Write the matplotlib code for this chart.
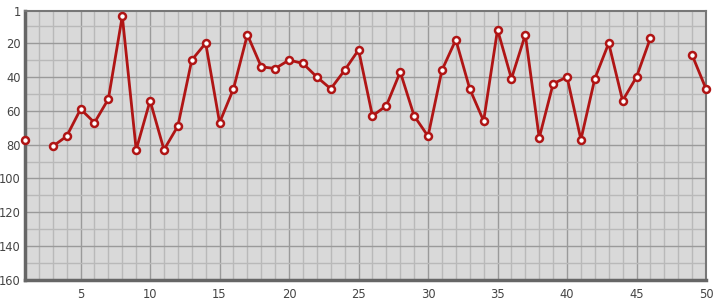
import matplotlib.pyplot as plt
import numpy as np

positions = np.arange(1, 51)
ranks = [77, np.nan, 81, 75, 59, 67, 53, 4, 83, 54,
         83, 69, 30, 20, 67, 47, 15, 34, 35, 30,
         32, 40, 47, 36, 24, 63, 57, 37, 63, 75,
         36, 18, 47, 66, 12, 41, 15, 76, 44, 40,
         77, 41, 20, 54, 40, 17, np.nan, np.nan, 27, 47]
ranks = np.array(ranks, dtype=float)

x_ticks = [5, 10, 15, 20, 25, 30, 35, 40, 45, 50]
y_ticks = [1, 20, 40, 60, 80, 100, 120, 140, 160]

fig = plt.figure(figsize=(7.15, 3.0), dpi=100)
ax = fig.add_axes([25 / 715, 20 / 300, 681 / 715, 269 / 300])
ax.set_facecolor("#d9d9d9")

ax.set_xlim(1, 50)
ax.set_ylim(160, 1)

# grid: minor every unit / 10, major at ticks
for xv in range(2, 50):
    c = "#9a9a9a" if xv % 5 == 0 else "#b9b9b9"
    ax.axvline(xv, color=c, lw=1, zorder=1)
for yv in range(10, 160, 10):
    c = "#9a9a9a" if yv % 20 == 0 else "#b9b9b9"
    ax.axhline(yv, color=c, lw=1, zorder=1)

ax.plot(positions, ranks, color="#b01515", lw=2, marker="o", ms=5,
        mfc="white", mec="#b01515", mew=1.8, zorder=3, clip_on=False)

ax.set_xticks(x_ticks)
ax.set_yticks(y_ticks)
ax.tick_params(length=0, colors="#444444", labelsize=8.3, pad=3)
ax.tick_params(axis="x", pad=6)

for side in ["top", "right"]:
    ax.spines[side].set_color("#777777")
    ax.spines[side].set_linewidth(1.5)
for side in ["left", "bottom"]:
    ax.spines[side].set_color("#666666")
    ax.spines[side].set_linewidth(2.5)

fig.savefig("out.png", dpi=100)
